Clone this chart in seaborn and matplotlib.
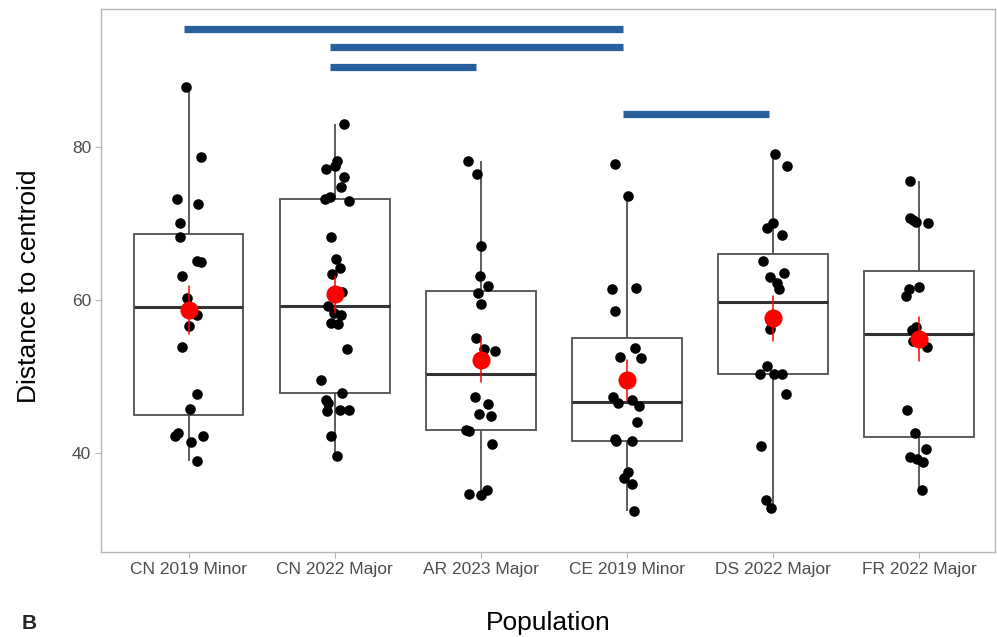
import numpy as np
import pandas as pd
import matplotlib
matplotlib.use("Agg")
import matplotlib.pyplot as plt
import seaborn as sns

# group labels in plotting order
populations = ["CN 2019 Minor", "CN 2022 Major", "AR 2023 Major",
               "CE 2019 Minor", "DS 2022 Major", "FR 2022 Major"]

# distance to centroid per sample
cn2019 = [87.8, 78.7, 73.2, 72.5, 70.0, 68.2, 65.1, 65.0, 63.2, 60.3,
          58.0, 56.6, 53.9, 47.7, 45.8, 42.7, 42.3, 42.3, 41.4, 39.0]
cn2022 = [83.0, 78.1, 77.5, 77.1, 76.1, 74.8, 73.5, 73.2, 72.9, 68.2,
          65.4, 64.2, 63.4, 61.0, 59.2, 58.3, 58.0, 57.0, 56.9, 53.6,
          49.6, 47.9, 47.0, 46.6, 45.7, 45.7, 45.5, 42.2, 39.6]
ar2023 = [78.1, 76.4, 67.0, 63.1, 61.8, 60.9, 59.5, 55.1, 53.6, 53.3,
          47.3, 46.4, 45.1, 44.8, 43.0, 42.9, 41.2, 35.2, 34.7, 34.6]
ce2019 = [77.7, 73.6, 61.6, 61.4, 58.6, 53.8, 52.5, 52.4, 47.3, 46.9,
          46.5, 46.1, 44.1, 41.9, 41.6, 41.6, 37.6, 36.7, 36.0, 32.4]
ds2022 = [79.1, 77.5, 70.1, 69.4, 68.5, 65.1, 63.5, 63.0, 62.2, 61.5,
          57.9, 56.2, 51.4, 50.4, 50.4, 50.4, 47.7, 41.0, 33.9, 32.9]
fr2022 = [75.5, 70.7, 70.5, 70.2, 70.0, 61.7, 61.5, 60.5, 56.5, 56.1,
          55.0, 54.6, 53.9, 45.6, 42.6, 40.5, 39.5, 39.3, 38.8, 35.2]

# horizontal jitter of each dot as it appears in the figure
jit_cn2019 = [-0.016, 0.084, -0.082, 0.066, -0.062, -0.062, 0.057, 0.087, -0.046, -0.011,
              0.057, 0.0, -0.043, 0.057, 0.007, -0.075, -0.094, 0.096, 0.016, 0.057]
jit_cn2022 = [0.064, 0.018, 0.005, -0.057, 0.062, 0.046, -0.034, -0.068, 0.096, -0.027,
              0.011, 0.034, -0.016, 0.052, -0.046, -0.005, 0.046, -0.027, 0.023, 0.084,
              -0.091, 0.052, -0.057, -0.046, 0.034, 0.098, -0.052, -0.027, 0.018]
jit_ar2023 = [-0.091, -0.025, 0.0, -0.007, 0.046, -0.018, 0.0, -0.030, 0.023, 0.100,
              -0.041, 0.046, -0.014, 0.073, -0.098, -0.082, 0.078, 0.039, -0.082, 0.0]
jit_ce2019 = [-0.078, 0.005, 0.062, -0.100, -0.078, 0.057, -0.050, 0.094, -0.096, 0.034,
              -0.062, 0.082, 0.071, -0.078, -0.073, 0.034, 0.009, -0.018, 0.034, 0.052]
jit_ds2022 = [0.016, 0.094, -0.002, -0.041, 0.062, -0.068, 0.078, -0.018, 0.027, 0.043,
              0.005, -0.023, -0.041, -0.091, 0.005, 0.059, 0.087, -0.082, -0.046, -0.011]
jit_fr2022 = [-0.062, -0.062, -0.039, -0.021, 0.059, 0.0, -0.066, -0.089, -0.023, -0.050,
              0.0, -0.039, 0.052, -0.084, -0.025, 0.048, -0.062, -0.016, 0.025, 0.021]

# significant pairwise comparisons (group indices) and their bar heights
sig_pairs = [(0, 3), (1, 3), (1, 2), (3, 4)]
sig_heights = [95.4, 93.1, 90.4, 84.3]

values = [cn2019, cn2022, ar2023, ce2019, ds2022, fr2022]
jitters = [jit_cn2019, jit_cn2022, jit_ar2023, jit_ce2019, jit_ds2022, jit_fr2022]

rows = []
for i, (pop, vals, jit) in enumerate(zip(populations, values, jitters)):
    for v, j in zip(vals, jit):
        rows.append({"Population": pop, "Distance": v, "xpos": i + j})
df = pd.DataFrame(rows)

sns.set_theme(style="white")
plt.rcParams['font.family'] = ['Liberation Sans', 'DejaVu Sans']

fig = plt.figure(figsize=(9.97, 6.37), dpi=100)
ax = fig.add_axes([0.1013, 0.1334, 0.8967, 0.8525])

sns.boxplot(data=df, x="Population", y="Distance", order=populations,
            width=0.75, color="white", linecolor="#4f4f4f", linewidth=1.3,
            showcaps=False, showfliers=False,
            medianprops={"color": "#333333", "linewidth": 2.2}, ax=ax)

sns.scatterplot(data=df, x="xpos", y="Distance", color="black", s=58,
                linewidth=0, ax=ax, zorder=3, legend=False)

sns.pointplot(data=df, x="Population", y="Distance", order=populations,
              estimator="mean", errorbar="se", color="red", linestyle="none",
              markersize=11, err_kws={"linewidth": 1.1}, ax=ax, zorder=4)

for (a, b), h in zip(sig_pairs, sig_heights):
    ax.plot([a - 0.03, b - 0.03], [h, h], color="#27609c", linewidth=5.2,
            solid_capstyle="butt", zorder=5)

ax.set_xlim(-0.6, 5.52)
ax.set_ylim(27.1, 98.0)
ax.set_yticks([40, 60, 80])

for side in ["left", "right", "top", "bottom"]:
    ax.spines[side].set_visible(True)
    ax.spines[side].set_color("#b5b5b5")
    ax.spines[side].set_linewidth(1.0)

ax.tick_params(axis="both", which="major", length=4, width=0.8, color="#b5b5b5",
               labelsize=12.5, labelcolor="#4d4d4d", pad=3, left=True, bottom=True)

ax.set_xlabel("Population", fontsize=19, color="black")
ax.set_ylabel("Distance to centroid", fontsize=19, color="black")
ax.xaxis.set_label_coords(0.5, -0.108)
ax.xaxis.label.set_va("top")
ax.yaxis.set_label_coords(-0.067, 0.49)

# panel letter, kept just inside the lower edge
fig.text(0.022, 0.006, "B", fontsize=15, fontweight="bold", va="bottom", ha="left")

fig.savefig("out.png", dpi=100)
